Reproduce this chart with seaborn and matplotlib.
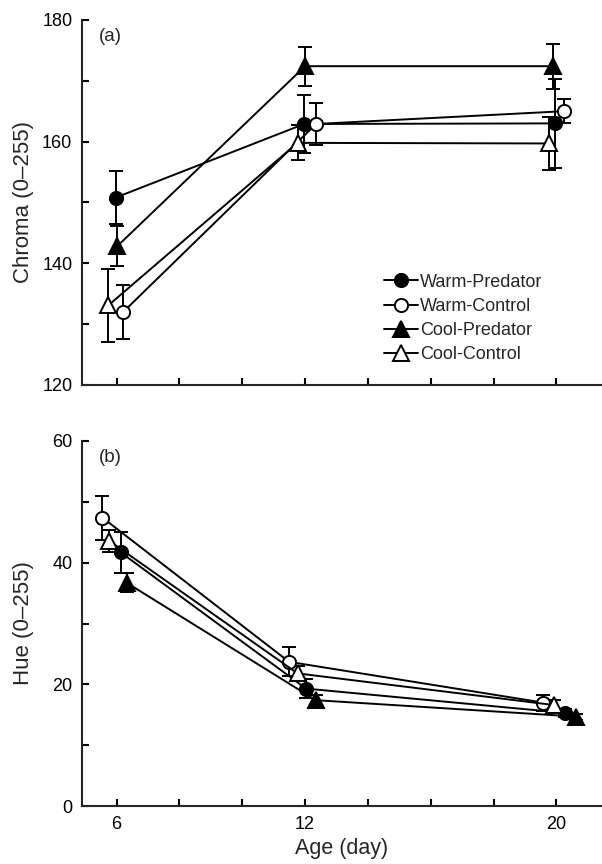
import matplotlib
matplotlib.use("Agg")
import matplotlib.pyplot as plt
from matplotlib.lines import Line2D
import pandas as pd
import seaborn as sns

# ---------------- data ----------------
groups = ["Warm-Predator", "Warm-Control", "Cool-Predator", "Cool-Control"]
days = [6, 12, 20]

# Panel (a): chroma means and error bars
chroma_mean = {
    "Warm-Predator": [150.8, 162.9, 163.0],
    "Warm-Control": [132.0, 162.9, 165.0],
    "Cool-Predator": [142.8, 172.4, 172.4],
    "Cool-Control": [133.1, 159.8, 159.7],
}
chroma_err = {
    "Warm-Predator": [4.4, 4.8, 7.3],
    "Warm-Control": [4.5, 3.5, 2.0],
    "Cool-Predator": [3.3, 3.2, 3.7],
    "Cool-Control": [6.0, 2.9, 4.4],
}
# horizontal dodge (days) used in the original figure
chroma_dodge = {
    "Warm-Predator": [-0.03, -0.03, -0.03],
    "Warm-Control": [0.21, 0.35, 0.23],
    "Cool-Predator": [0.02, 0.0, -0.1],
    "Cool-Control": [-0.26, -0.24, -0.24],
}

# Panel (b): hue means and error bars
hue_mean = {
    "Warm-Predator": [41.7, 19.3, 15.3],
    "Warm-Control": [47.4, 23.7, 17.0],
    "Cool-Predator": [36.7, 17.4, 14.7],
    "Cool-Control": [43.6, 21.8, 16.6],
}
hue_err = {
    "Warm-Predator": [3.4, 1.6, 0.6],
    "Warm-Control": [3.6, 2.4, 1.3],
    "Cool-Predator": [1.6, 0.8, 0.5],
    "Cool-Control": [1.8, 1.2, 0.8],
}
hue_dodge = {
    "Warm-Predator": [0.13, 0.03, 0.28],
    "Warm-Control": [-0.45, -0.51, -0.42],
    "Cool-Predator": [0.32, 0.34, 0.63],
    "Cool-Control": [-0.24, -0.24, -0.08],
}

# ---------------- styling ----------------
sns.set_style("ticks")
plt.rcParams["font.family"] = ["Liberation Sans", "DejaVu Sans"]
plt.rcParams["axes.linewidth"] = 1.5

LW = 1.4
marker_style = {
    "Warm-Predator": dict(marker="o", mfc="black", ms=9.5),
    "Warm-Control": dict(marker="o", mfc="white", ms=9.5),
    "Cool-Predator": dict(marker="^", mfc="black", ms=11),
    "Cool-Control": dict(marker="^", mfc="white", ms=11),
}


def build_df(mean, err, dodge):
    rows = []
    for g in groups:
        for d, m, e, o in zip(days, mean[g], err[g], dodge[g]):
            rows.append({"group": g, "day": d, "x": d + o, "value": m, "err": e})
    return pd.DataFrame(rows)


def draw_panel(ax, df):
    for g in groups:
        sub = df[df["group"] == g]
        st = marker_style[g]
        ax.errorbar(sub["x"], sub["value"], yerr=sub["err"], fmt="none",
                    ecolor="black", elinewidth=LW, capsize=5, capthick=LW,
                    zorder=2)
        sns.lineplot(data=sub, x="x", y="value", ax=ax, color="black",
                     sort=False, estimator=None, errorbar=None,
                     marker=st["marker"], markersize=st["ms"],
                     markerfacecolor=st["mfc"], markeredgecolor="black",
                     markeredgewidth=LW, linewidth=LW, zorder=3,
                     legend=False)


fig = plt.figure(figsize=(6.02, 8.64), dpi=100)
ax_a = fig.add_axes([0.1362, 0.5544, 0.8638, 0.4225])
ax_b = fig.add_axes([0.1362, 0.0671, 0.8638, 0.4225])

df_a = build_df(chroma_mean, chroma_err, chroma_dodge)
df_b = build_df(hue_mean, hue_err, hue_dodge)
draw_panel(ax_a, df_a)
draw_panel(ax_b, df_b)

xticks = list(range(6, 21, 2))
xticklabels = [str(t) if t in days else "" for t in xticks]

for ax in (ax_a, ax_b):
    sns.despine(ax=ax)
    ax.set_xlim(4.9, 21.45)
    ax.set_xticks(xticks)
    ax.tick_params(axis="both", which="both", direction="in", length=5,
                   width=1.5, labelsize=13, colors="black")
    ax.tick_params(axis="y", pad=7)
    ax.tick_params(axis="x", pad=7)

ax_a.set_ylim(120, 180)
ax_a.set_yticks([120, 140, 160, 180])
ax_a.set_yticks([130, 150, 170], minor=True)
ax_a.set_xticklabels([""] * len(xticks))
ax_a.set_xlabel("")
ax_a.set_ylabel("Chroma (0\u2013255)", fontsize=16)

ax_b.set_ylim(0, 60)
ax_b.set_yticks([0, 20, 40, 60])
ax_b.set_yticks([10, 30, 50], minor=True)
ax_b.set_xticklabels(xticklabels)
ax_b.set_xlabel("Age (day)", fontsize=15.5)
ax_b.set_ylabel("Hue (0\u2013255)", fontsize=16)

for ax in (ax_a, ax_b):
    ax.yaxis.set_label_coords(-0.093, 0.5)

ax_a.text(0.032, 0.955, "(a)", transform=ax_a.transAxes, fontsize=13.5,
          va="center", ha="left")
ax_b.text(0.032, 0.955, "(b)", transform=ax_b.transAxes, fontsize=13.5,
          va="center", ha="left")

handles = []
for g in groups:
    st = marker_style[g]
    handles.append(Line2D([0], [0], color="black", lw=LW, marker=st["marker"],
                          markersize=st["ms"], markerfacecolor=st["mfc"],
                          markeredgecolor="black", markeredgewidth=LW))
ax_a.legend(handles, groups, loc="upper left", bbox_to_anchor=(0.58, 0.305),
            frameon=False, fontsize=13, handlelength=1.9, handletextpad=0.1,
            labelspacing=0.4, borderpad=0, borderaxespad=0)

fig.savefig("out.png", dpi=100)
